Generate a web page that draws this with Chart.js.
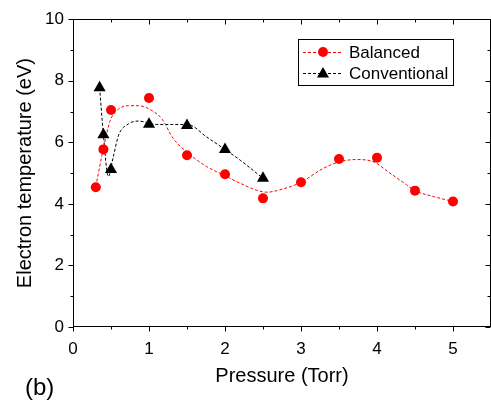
<!DOCTYPE html>
<html>
<head>
<meta charset="utf-8">
<script src="https://cdn.jsdelivr.net/npm/chart.js@4.4.1/dist/chart.umd.min.js"></script>
<style>
  html, body { margin: 0; padding: 0; background: #fff; }
</style>
</head>
<body>
<canvas id="tempChart" width="491" height="405"></canvas>
<script>
// Measured electron temperature vs pressure
const pressure = [0.3, 0.4, 0.5, 1, 1.5, 2, 2.5, 3, 3.5, 4, 4.5, 5];
const balanced = [4.54, 5.77, 7.05, 7.44, 5.58, 4.96, 4.18, 4.70, 5.46, 5.50, 4.43, 4.08];

const convPressure = [0.35, 0.4, 0.5, 1, 1.5, 2, 2.5];
const conventional = [7.77, 6.25, 5.12, 6.59, 6.55, 5.77, 4.83];

// Smoothed trend lines (dashed)
const balancedFitX = [0.30, 0.40, 0.49, 0.60, 0.73, 0.86, 1.04, 1.17, 1.32, 1.52, 1.76, 1.98, 2.20, 2.42, 2.55, 2.77, 3.00, 3.29, 3.51, 3.73, 3.95, 4.17, 4.39, 4.50, 4.74, 5.00];
const balancedFitY = [4.57, 5.80, 6.71, 7.08, 7.19, 7.19, 7.03, 6.76, 6.12, 5.64, 5.21, 4.94, 4.67, 4.44, 4.38, 4.49, 4.70, 5.15, 5.37, 5.44, 5.37, 5.00, 4.62, 4.43, 4.24, 4.08];

const convFitX = [0.35, 0.40, 0.465, 0.53, 0.60, 0.73, 0.86, 1.10, 1.32, 1.52, 1.76, 1.98, 2.20, 2.42, 2.50];
const convFitY = [7.77, 6.25, 4.89, 5.53, 6.23, 6.60, 6.69, 6.58, 6.58, 6.57, 6.17, 5.80, 5.42, 4.99, 4.83];

const xTicks = [0, 1, 2, 3, 4, 5];
const xMinor = [0.5, 1.5, 2.5, 3.5, 4.5];
const yTicks = [0, 2, 4, 6, 8, 10];
const yMinor = [1, 3, 5, 7, 9];

const FONT = '"Liberation Sans", Arial, Helvetica, sans-serif';
const RED = '#ff0000';
const BLACK = '#000000';

const toXY = (xs, ys) => xs.map((v, i) => ({ x: v, y: ys[i] }));

// box around the plot with ticks (out on bottom/left, in on top/right)
const framePlugin = {
  id: 'frame',
  afterDraw(chart) {
    const { ctx, chartArea: a, scales: { x, y } } = chart;
    const L = Math.round(a.left) + 0.5;
    const R = Math.round(a.right) - 0.5;
    const T = Math.round(a.top) + 0.5;
    const B = Math.round(a.bottom) - 0.5;
    ctx.save();
    ctx.strokeStyle = '#000';
    ctx.lineWidth = 1;
    ctx.strokeRect(L, T, R - L, B - T);
    ctx.beginPath();
    const xt = (vals, len) => vals.forEach(v => {
      const px = Math.round(x.getPixelForValue(v)) + 0.5;
      ctx.moveTo(px, B); ctx.lineTo(px, B + len);
      ctx.moveTo(px, T); ctx.lineTo(px, T + len);
    });
    const yt = (vals, len) => vals.forEach(v => {
      const py = Math.round(y.getPixelForValue(v)) + 0.5;
      ctx.moveTo(L, py); ctx.lineTo(L - len, py);
      ctx.moveTo(R, py); ctx.lineTo(R - len, py);
    });
    xt(xTicks, 5); xt(xMinor, 3);
    yt(yTicks, 5); yt(yMinor, 3);
    ctx.stroke();

    // panel label
    ctx.fillStyle = '#000';
    ctx.font = '24px ' + FONT;
    ctx.textBaseline = 'alphabetic';
    ctx.textAlign = 'left';
    ctx.fillText('(b)', 25, 395);
    ctx.restore();
  }
};

// boxed legend in the upper right
const legendPlugin = {
  id: 'boxLegend',
  afterDraw(chart) {
    const { ctx } = chart;
    const items = [
      { label: 'Balanced', color: RED, style: 'circle', radius: 5, y: 52 },
      { label: 'Conventional', color: BLACK, style: 'triangle', radius: 7, y: 73 }
    ];
    ctx.save();
    ctx.strokeStyle = '#000';
    ctx.lineWidth = 1;
    ctx.strokeRect(298.5, 39.5, 155, 46);
    items.forEach(it => {
      ctx.strokeStyle = it.color;
      ctx.setLineDash([3, 2]);
      ctx.beginPath();
      ctx.moveTo(303, it.y + 0.5);
      ctx.lineTo(343, it.y + 0.5);
      ctx.stroke();
      ctx.setLineDash([]);
      ctx.fillStyle = it.color;
      Chart.helpers.drawPoint(ctx, { pointStyle: it.style, radius: it.radius, borderWidth: 0 }, 323, it.y + (it.style === 'triangle' ? 1 : 0));
      ctx.fillStyle = '#000';
      ctx.font = '17px ' + FONT;
      ctx.textBaseline = 'middle';
      ctx.textAlign = 'left';
      ctx.fillText(it.label, 349, it.y + 1);
    });
    ctx.restore();
  }
};

const ctx = document.getElementById('tempChart').getContext('2d');

new Chart(ctx, {
  type: 'scatter',
  data: {
    datasets: [
      {
        label: 'Balanced',
        data: toXY(pressure, balanced),
        showLine: false,
        pointStyle: 'circle',
        pointRadius: 5,
        pointBackgroundColor: RED,
        pointBorderWidth: 0,
        order: 0
      },
      {
        label: 'Conventional',
        data: toXY(convPressure, conventional),
        showLine: false,
        pointStyle: 'triangle',
        pointRadius: 7,
        pointBackgroundColor: BLACK,
        pointBorderWidth: 0,
        order: 0
      },
      {
        label: 'Balanced fit',
        data: toXY(balancedFitX, balancedFitY),
        showLine: true,
        borderColor: RED,
        borderWidth: 1,
        borderDash: [3, 2],
        pointRadius: 0,
        cubicInterpolationMode: 'monotone',
        order: 1
      },
      {
        label: 'Conventional fit',
        data: toXY(convFitX, convFitY),
        showLine: true,
        borderColor: BLACK,
        borderWidth: 1,
        borderDash: [3, 2],
        pointRadius: 0,
        cubicInterpolationMode: 'monotone',
        order: 1
      }
    ]
  },
  options: {
    responsive: false,
    devicePixelRatio: 1,
    animation: false,
    events: [],
    layout: { autoPadding: false, padding: { top: 16, right: 0, bottom: 0, left: 0 } },
    plugins: {
      legend: { display: false },
      tooltip: { enabled: false }
    },
    scales: {
      x: {
        type: 'linear',
        min: 0,
        max: 5.5,
        afterBuildTicks: s => { s.ticks = xTicks.map(v => ({ value: v })); },
        afterFit: s => { s.height = 78; },
        grid: { display: true, drawOnChartArea: false, drawTicks: false },
        border: { display: false },
        ticks: {
          color: '#000',
          padding: 12,
          maxRotation: 0,
          font: { family: FONT, size: 17 }
        },
        title: {
          display: true,
          text: 'Pressure (Torr)',
          color: '#000',
          font: { family: FONT, size: 20 },
          padding: { top: 0, bottom: 17 }
        }
      },
      y: {
        type: 'linear',
        min: 0,
        max: 10,
        afterBuildTicks: s => { s.ticks = yTicks.map(v => ({ value: v })); },
        afterFit: s => { s.width = 73; },
        grid: { display: true, drawOnChartArea: false, drawTicks: false },
        border: { display: false },
        ticks: {
          color: '#000',
          padding: 9,
          font: { family: FONT, size: 17 }
        },
        title: {
          display: true,
          text: 'Electron temperature (eV)',
          color: '#000',
          font: { family: FONT, size: 20 },
          padding: { top: 13, bottom: 0 }
        }
      }
    }
  },
  plugins: [framePlugin, legendPlugin]
});
</script>
</body>
</html>
